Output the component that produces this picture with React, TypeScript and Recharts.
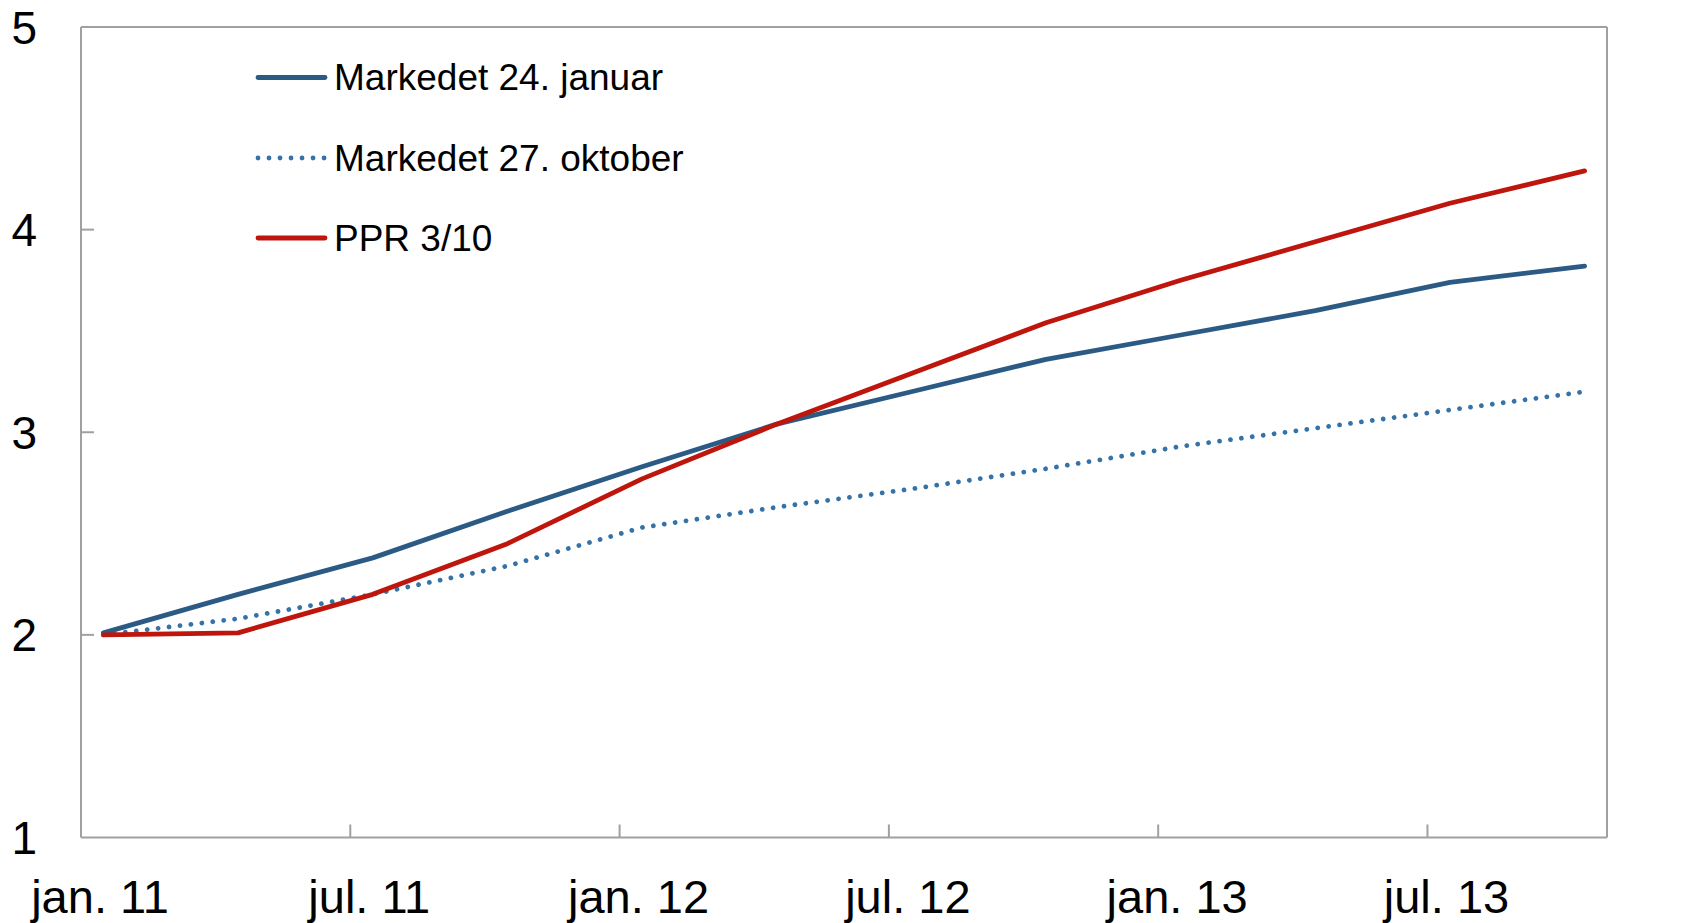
import React from 'react';
import { LineChart, Line, XAxis, YAxis, ReferenceLine, Legend } from 'recharts';

const quarterMonths = [0.5, 3.5, 6.5, 9.5, 12.5, 15.5, 18.5, 21.5, 24.5, 27.5, 30.5, 33.5];
const markedet24Januar = [2.01, 2.2, 2.38, 2.61, 2.83, 3.04, 3.2, 3.36, 3.48, 3.6, 3.74, 3.82];
const markedet27Oktober = [2.0, 2.08, 2.2, 2.34, 2.53, 2.63, 2.72, 2.82, 2.93, 3.02, 3.11, 3.2];
const ppr310 = [2.0, 2.01, 2.2, 2.45, 2.77, 3.04, 3.29, 3.54, 3.75, 3.94, 4.13, 4.29];

const xTickMonths = [0, 6, 12, 18, 24, 30];
const xTickLabels = ['jan. 11', 'jul. 11', 'jan. 12', 'jul. 12', 'jan. 13', 'jul. 13'];
const yTicks = [1, 2, 3, 4, 5];
const seriesNames = ['Markedet 24. januar', 'Markedet 27. oktober', 'PPR 3/10'];

const data = quarterMonths.map((m, i) => ({
  m,
  a: markedet24Januar[i],
  b: markedet27Oktober[i],
  c: ppr310[i],
}));

const FONT = '"Liberation Sans", Arial, sans-serif';
const AXIS = '#a0a0a0';
const BLUE = '#2b5b84';
const BLUE_DOT = '#3472a8';
const RED = '#be150d';

const LeftTick = (props: any) => {
  const { x, y, payload } = props;
  const v = payload.value;
  return (
    <g>
      {v !== 1 && v !== 5 && <line x1={x} x2={x + 13} y1={y} y2={y} stroke={AXIS} strokeWidth={2} />}
      <text x={x - 44} y={y + 16.5} textAnchor="end" fontSize={46} fontFamily={FONT} fill="#000">
        {v}
      </text>
    </g>
  );
};

const RightTick = (props: any) => {
  const { x, y, payload } = props;
  const v = payload.value;
  return (
    <g>
      {v !== 1 && v !== 5 && <line x1={x - 13} x2={x} y1={y} y2={y} stroke={AXIS} strokeWidth={2} />}
      <text x={x + 43} y={y + 16.5} textAnchor="start" fontSize={46} fontFamily={FONT} fill="#000">
        {v}
      </text>
    </g>
  );
};

const BottomTick = (props: any) => {
  const { x, y, payload, index } = props;
  return (
    <g>
      {index > 0 && <line x1={x} x2={x} y1={y - 13} y2={y} stroke={AXIS} strokeWidth={2} />}
      <text x={x + 19} y={y + 75.5} textAnchor="middle" fontSize={47} fontFamily={FONT} fill="#000">
        {xTickLabels[index]}
      </text>
    </g>
  );
};

const legendRows = [
  { name: seriesNames[0], color: BLUE, dash: undefined as string | undefined, y: 77.5 },
  { name: seriesNames[1], color: BLUE_DOT, dash: '0.01 11', y: 158 },
  { name: seriesNames[2], color: RED, dash: undefined as string | undefined, y: 238 },
];

const renderLegend = () => (
  <svg width={700} height={270} style={{ display: 'block' }}>
    {legendRows.map((r) => (
      <g key={r.name}>
        <line
          x1={258}
          x2={325}
          y1={r.y}
          y2={r.y}
          stroke={r.color}
          strokeWidth={4.8}
          strokeLinecap="round"
          strokeDasharray={r.dash}
        />
        <text x={334} y={r.y + 12.5} fontSize={37} fontFamily={FONT} fill="#000">
          {r.name}
        </text>
      </g>
    ))}
  </svg>
);

export default function App() {
  return (
    <div style={{ position: 'absolute', left: 0, top: 0, width: 1690, height: 923, background: '#fff' }}>
      <LineChart width={1690} height={923} data={data} margin={{ top: 27, right: 0, bottom: 0, left: 0 }}>
        <XAxis
          dataKey="m"
          type="number"
          domain={[0, 34]}
          ticks={xTickMonths}
          height={85.5}
          axisLine={{ stroke: AXIS, strokeWidth: 2 }}
          tickLine={false}
          tickSize={0}
          tickMargin={0}
          tick={<BottomTick />}
          interval={0}
        />
        <YAxis
          yAxisId="left"
          orientation="left"
          domain={[1, 5]}
          ticks={yTicks}
          width={81}
          axisLine={{ stroke: AXIS, strokeWidth: 2 }}
          tickLine={false}
          tickSize={0}
          tickMargin={0}
          tick={<LeftTick />}
          interval={0}
        />
        <YAxis
          yAxisId="right"
          orientation="right"
          domain={[1, 5]}
          ticks={yTicks}
          width={83}
          axisLine={{ stroke: AXIS, strokeWidth: 2 }}
          tickLine={false}
          tickSize={0}
          tickMargin={0}
          tick={<RightTick />}
          interval={0}
        />
        <ReferenceLine yAxisId="left" y={5} stroke={AXIS} strokeWidth={2} />
        <Legend
          layout="horizontal"
          verticalAlign="middle"
          align="center"
          content={renderLegend}
          wrapperStyle={{ position: 'absolute', left: 0, top: 0, width: 700, height: 270 }}
        />
        <Line
          yAxisId="left"
          type="linear"
          dataKey="b"
          name={seriesNames[1]}
          stroke={BLUE_DOT}
          strokeWidth={4.8}
          strokeDasharray="0.01 11"
          strokeLinecap="round"
          dot={false}
          activeDot={false}
          isAnimationActive={false}
        />
        <Line
          yAxisId="left"
          type="linear"
          dataKey="a"
          name={seriesNames[0]}
          stroke={BLUE}
          strokeWidth={4.8}
          strokeLinecap="round"
          strokeLinejoin="round"
          dot={false}
          activeDot={false}
          isAnimationActive={false}
        />
        <Line
          yAxisId="left"
          type="linear"
          dataKey="c"
          name={seriesNames[2]}
          stroke={RED}
          strokeWidth={4.8}
          strokeLinecap="round"
          strokeLinejoin="round"
          dot={false}
          activeDot={false}
          isAnimationActive={false}
        />
      </LineChart>
    </div>
  );
}
